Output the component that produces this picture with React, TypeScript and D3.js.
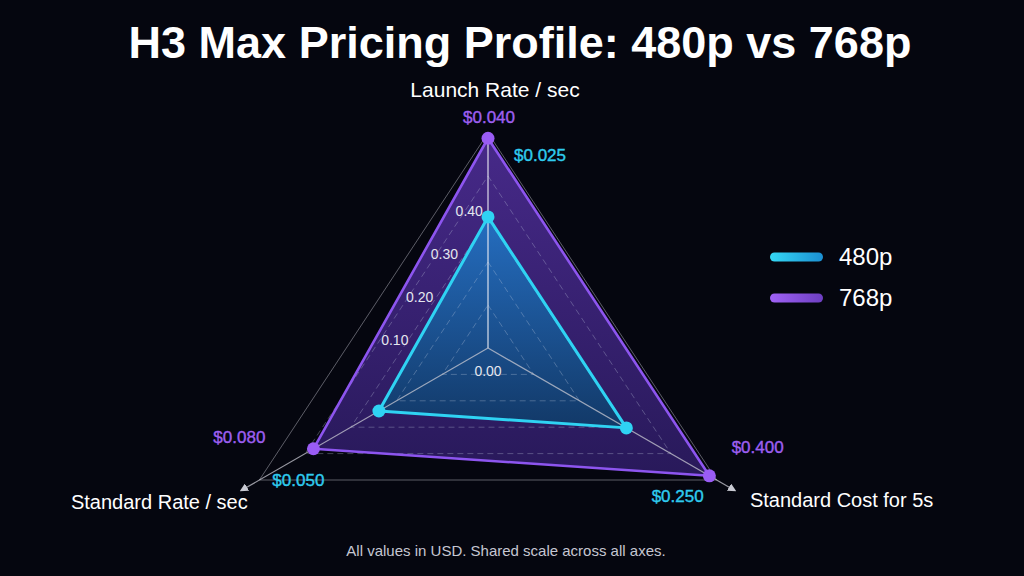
import * as d3 from 'd3';
import React from 'react';

// chart data
const axes = ['Launch Rate / sec', 'Standard Cost for 5s', 'Standard Rate / sec'];
const axisExtent = [0.041, 0.41, 0.104]; // value at the outer ring of each axis
const series = ['480p', '768p'];
const values480 = [0.025, 0.25, 0.05];
const values768 = [0.04, 0.4, 0.08];
const valueLabels480 = ['$0.025', '$0.250', '$0.050'];
const valueLabels768 = ['$0.040', '$0.400', '$0.080'];
const ringTicks = [0.1, 0.2, 0.3, 0.4];
const tickLabels = ['0.10', '0.20', '0.30', '0.40'];
const centerLabel = '0.00';

const W = 1024;
const H = 576;
const cx = 488;
const cy = 348;
const FONT = '"Liberation Sans", Arial, Helvetica, sans-serif';

// layout per axis (top, bottom-right, bottom-left)
const axisRadius = [215, 264, 264];
const angles = [-90, 30, 150].map(a => (a * Math.PI) / 180);
const axisLabelOffset = [[7, -36], [125, 27], [-100, 29]];
const axisLabelSize = [21, 20, 20];
const label768Offset = [[1, -10], [41, -27], [-20, -37]];
const label480Offset = [[52, 28], [-39, 22], [39, 6]];

const ringScale = d3.scaleLinear().domain([0, 0.5]).range([0, 1]);
const valueScales = axes.map((_, i) => d3.scaleLinear().domain([0, axisExtent[i]]).range([0, axisRadius[i] - (i === 0 ? 0 : 2)]));

const pt = (i: number, r: number): [number, number] => [cx + r * Math.cos(angles[i]), cy + r * Math.sin(angles[i])];

const closed = d3.line<[number, number]>().curve(d3.curveLinearClosed);

const seriesPoints = (vals: number[]) => vals.map((v, i) => pt(i, valueScales[i](v)));

export default function App() {
  const p480 = seriesPoints(values480);
  const p768 = seriesPoints(values768);
  const outer = axes.map((_, i) => pt(i, axisRadius[i]));

  const colors = { '480p': '#2fd3f3', '768p': '#9a5cf4' } as Record<string, string>;
  const labelColor = { '480p': '#2fcbee', '768p': '#9d5ff0' } as Record<string, string>;

  return (
    <svg width={W} height={H} style={{ position: 'absolute', left: 0, top: 0 }} fontFamily={FONT}>
      <defs>
        <linearGradient id="fill768" x1="0" y1="0" x2="0" y2="1">
          <stop offset="0%" stopColor="#4a2b8f" />
          <stop offset="100%" stopColor="#2a1a5e" />
        </linearGradient>
        <linearGradient id="fill480" x1="0" y1="0" x2="0" y2="1">
          <stop offset="0%" stopColor="#2276c8" />
          <stop offset="100%" stopColor="#0f3c68" />
        </linearGradient>
        <linearGradient id="leg480p" x1="0" y1="0" x2="1" y2="0">
          <stop offset="0%" stopColor="#35d8f5" />
          <stop offset="100%" stopColor="#1b8fd2" />
        </linearGradient>
        <linearGradient id="leg768p" x1="0" y1="0" x2="1" y2="0">
          <stop offset="0%" stopColor="#a062f6" />
          <stop offset="100%" stopColor="#6e3fc2" />
        </linearGradient>
        <marker id="arrow" viewBox="0 0 10 10" refX="8" refY="5" markerWidth="7" markerHeight="7" orient="auto">
          <path d="M0,0 L10,5 L0,10 z" fill="#c9cad3" />
        </marker>
      </defs>

      <rect width={W} height={H} fill="#05060f" />

      <text x={520} y={58} textAnchor="middle" fill="#ffffff" fontSize={45} fontWeight="bold">
        H3 Max Pricing Profile: 480p vs 768p
      </text>

      {/* series fills */}
      <path d={closed(p768) ?? ''} fill="url(#fill768)" opacity={0.95} />
      <path d={closed(p480) ?? ''} fill="url(#fill480)" opacity={0.9} />

      {/* grid rings */}
      {ringTicks.map(t => (
        <path
          key={t}
          d={closed(axes.map((_, i) => pt(i, ringScale(t) * axisRadius[i]))) ?? ''}
          fill="none"
          stroke="#c8d2e6"
          strokeOpacity={0.3}
          strokeWidth={1}
          strokeDasharray="6 4"
        />
      ))}
      <path d={closed(outer) ?? ''} fill="none" stroke="#c8c8d2" strokeOpacity={0.45} strokeWidth={1} />

      {/* axes */}
      {axes.map((a, i) => {
        const end = i === 0 ? pt(i, axisRadius[i]) : pt(i, axisRadius[i] + 21);
        return (
          <line
            key={a}
            x1={cx}
            y1={cy}
            x2={end[0]}
            y2={end[1]}
            stroke={i === 0 ? '#f0f0f6' : '#c9cad3'}
            strokeOpacity={i === 0 ? 0.9 : 0.75}
            strokeWidth={1.2}
            markerEnd={i === 0 ? undefined : 'url(#arrow)'}
          />
        );
      })}

      {/* series outlines and points */}
      <path d={closed(p768) ?? ''} fill="none" stroke="#8d55ef" strokeWidth={2.6} strokeLinejoin="round" />
      <path d={closed(p480) ?? ''} fill="none" stroke={colors['480p']} strokeWidth={3} strokeLinejoin="round" />
      {p768.map((p, i) => (
        <circle key={'a' + i} cx={p[0]} cy={p[1]} r={6.5} fill={colors['768p']} />
      ))}
      {p480.map((p, i) => (
        <circle key={'b' + i} cx={p[0]} cy={p[1]} r={6.5} fill={colors['480p']} />
      ))}

      {/* ring tick labels */}
      {ringTicks.map((t, k) => {
        const r = ringScale(t) * axisRadius[0];
        return (
          <text key={t} x={cx - 118 + 0.577 * r} y={cy + 36 - r} textAnchor="middle" dominantBaseline="middle" fill="#e4e6ef" fontSize={14}>
            {tickLabels[k]}
          </text>
        );
      })}
      <text x={cx} y={cy + 24} textAnchor="middle" dominantBaseline="middle" fill="#e4e6ef" fontSize={14}>
        {centerLabel}
      </text>

      {/* axis and value labels */}
      {axes.map((a, i) => (
        <g key={a}>
          <text x={outer[i][0] + axisLabelOffset[i][0]} y={outer[i][1] + axisLabelOffset[i][1]} textAnchor="middle" fill="#ffffff" fontSize={axisLabelSize[i]}>
            {a}
          </text>
          <text
            x={outer[i][0] + label768Offset[i][0]}
            y={outer[i][1] + label768Offset[i][1]}
            textAnchor="middle"
            fill={labelColor['768p']}
            stroke={labelColor['768p']}
            strokeWidth={0.4}
            fontSize={17}
          >
            {valueLabels768[i]}
          </text>
          <text
            x={outer[i][0] + label480Offset[i][0]}
            y={outer[i][1] + label480Offset[i][1]}
            textAnchor="middle"
            fill={labelColor['480p']}
            stroke={labelColor['480p']}
            strokeWidth={0.4}
            fontSize={17}
          >
            {valueLabels480[i]}
          </text>
        </g>
      ))}

      {/* legend */}
      {series.map((s, k) => (
        <g key={s} transform={`translate(770, ${257 + k * 41})`}>
          <rect x={0} y={-4.5} width={53} height={9} rx={4.5} fill={`url(#leg${s})`} />
          <text x={69} y={8} fill="#ffffff" fontSize={24}>
            {s}
          </text>
        </g>
      ))}

      <text x={506} y={556} textAnchor="middle" fill="#c5c7d2" fontSize={15}>
        All values in USD. Shared scale across all axes.
      </text>
    </svg>
  );
}
